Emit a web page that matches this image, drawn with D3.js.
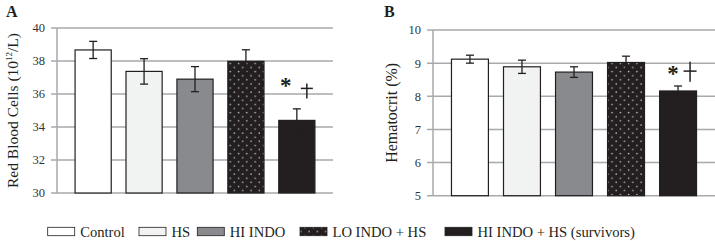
<!DOCTYPE html>
<html><head><meta charset="utf-8">
<script src="https://cdn.jsdelivr.net/npm/d3@7"></script>
<style>
body{margin:0;background:#fff;}
svg{display:block;}
svg text{font-family:"Liberation Serif","Times New Roman",serif;}
</style></head>
<body>
<svg id="c" width="715" height="241"></svg>
<script>
// ---- data ----
const groups = ["Control", "HS", "HI INDO", "LO INDO + HS", "HI INDO + HS (survivors)"];
const rbcMean = [38.67, 37.37, 36.9, 37.98, 34.4];
const rbcErr  = [0.52, 0.77, 0.76, 0.7, 0.7];
const hctMean = [9.12, 8.89, 8.73, 9.02, 8.16];
const hctErr  = [0.12, 0.2, 0.16, 0.19, 0.15];
const rbcTicks = [30, 32, 34, 36, 38, 40];
const hctTicks = [5, 6, 7, 8, 9, 10];
const fills = ["#ffffff", "#f1f2f2", "#898a8d", "url(#dots)", "#231f20"];

const svg = d3.select("#c");
const defs = svg.append("defs");
const pat = defs.append("pattern").attr("id","dots").attr("patternUnits","userSpaceOnUse")
  .attr("width",8.3).attr("height",8.2);
pat.append("rect").attr("width",8.3).attr("height",8.2).attr("fill","#231f20");
pat.append("circle").attr("cx",2).attr("cy",2).attr("r",0.75).attr("fill","#c8c8c8");
pat.append("circle").attr("cx",6.15).attr("cy",6.1).attr("r",0.75).attr("fill","#c8c8c8");

function panel(o){
  const x = d3.scaleBand().domain(groups).range([o.x0, o.x1]).paddingInner(0.29).paddingOuter(0.355);
  const y = d3.scaleLinear().domain(o.domain).range([o.y0, o.y1]);
  const g = svg.append("g");
  // gridlines
  g.selectAll("line.grid").data(o.ticks).join("line")
    .attr("x1", o.x0 - 6).attr("x2", o.gridEnd)
    .attr("y1", d => y(d)).attr("y2", d => y(d))
    .attr("stroke", "#a7a9ac").attr("stroke-width", 1.5);
  g.append("line").attr("x1", o.x0).attr("x2", o.x0).attr("y1", o.y1).attr("y2", o.y0)
    .attr("stroke", "#a7a9ac").attr("stroke-width", 1.5);
  // tick labels
  g.selectAll("text.tk").data(o.ticks).join("text")
    .attr("x", o.x0 - 12).attr("y", d => y(d)).attr("dy", "0.35em")
    .attr("text-anchor", "end").attr("font-size", 12.5).attr("fill", "#333")
    .text(d => d);
  // bars
  g.selectAll("rect.bar").data(groups).join("rect")
    .attr("x", d => x(d)).attr("width", x.bandwidth())
    .attr("y", (d,i) => y(o.mean[i])).attr("height", (d,i) => y(o.domain[0]) - y(o.mean[i]))
    .attr("fill", (d,i) => fills[i]).attr("stroke", "#231f20").attr("stroke-width", 1.2);
  // error bars
  const eb = g.selectAll("g.eb").data(groups).join("g");
  const cx = d => x(d) + x.bandwidth()/2;
  eb.append("line").attr("x1", cx).attr("x2", cx)
    .attr("y1", (d,i) => y(o.mean[i] + o.err[i])).attr("y2", (d,i) => y(o.mean[i] - o.err[i]))
    .attr("stroke", "#231f20").attr("stroke-width", 1.3);
  [1,-1].forEach(s => {
    eb.append("line").attr("x1", d => cx(d) - 4).attr("x2", d => cx(d) + 4)
      .attr("y1", (d,i) => y(o.mean[i] + s*o.err[i])).attr("y2", (d,i) => y(o.mean[i] + s*o.err[i]))
      .attr("stroke", "#231f20").attr("stroke-width", 1.3);
  });
  // significance marks on last group
  const last = groups[groups.length-1];
  const lc = cx(last);
  const ay = y(o.annot);
  g.append("text").attr("x", lc + o.astDx).attr("y", ay + 11).attr("text-anchor","middle")
    .attr("font-size", 23).attr("font-weight","bold").attr("fill","#231f20").text("*");
  g.append("line").attr("x1", lc + o.crossDx).attr("x2", lc + o.crossDx)
    .attr("y1", ay + o.crossTop).attr("y2", ay + o.crossTop + o.crossH)
    .attr("stroke","#231f20").attr("stroke-width",1.5);
  g.append("line").attr("x1", lc + o.crossDx - o.crossW/2).attr("x2", lc + o.crossDx + o.crossW/2)
    .attr("y1", ay + o.crossTop + o.crossH*o.crossF).attr("y2", ay + o.crossTop + o.crossH*o.crossF)
    .attr("stroke","#231f20").attr("stroke-width",1.5);
  // axis title
  const t = g.append("text").attr("transform", `translate(${o.titleX},${(o.y0+o.y1)/2}) rotate(-90)`)
    .attr("text-anchor","middle").attr("font-size", o.titleSize).attr("fill","#231f20");
  o.title(t);
  // panel letter
  g.append("text").attr("x", o.letterX).attr("y", 17).attr("font-size", 16).attr("font-weight","bold")
    .attr("fill","#231f20").text(o.letter);
}

panel({x0:57, x1:333, gridEnd:333, y0:193, y1:28, domain:[30,40], ticks:rbcTicks, mean:rbcMean, err:rbcErr,
  annot:36.7, astDx:-11, crossDx:10, crossTop:1, crossH:15, crossW:12, crossF:0.33,
  titleX:18, titleSize:15.5, letter:"A", letterX:6,
  title: t => { t.append("tspan").text("Red Blood Cells (10");
                t.append("tspan").attr("font-size",9).attr("dy",-6).text("12");
                t.append("tspan").attr("dy",6).text("/L)"); }});
panel({x0:433, x1:715, gridEnd:715, y0:195.7, y1:30, domain:[5,10], ticks:hctTicks, mean:hctMean, err:hctErr,
  annot:8.79, astDx:-5, crossDx:12, crossTop:-8.3, crossH:20, crossW:13, crossF:0.465,
  titleX:397, titleSize:16, letter:"B", letterX:384,
  title: t => t.text("Hematocrit (%)") });

// legend
const legX = [47.7, 139, 197.3, 300, 445];
const leg = svg.append("g");
groups.forEach((gname, i) => {
  leg.append("rect").attr("x", legX[i]).attr("y", 227.3).attr("width", 27).attr("height", 8.4)
    .attr("fill", fills[i]).attr("stroke", "#231f20").attr("stroke-width", 0.8);
  leg.append("text").attr("x", legX[i] + 32.5).attr("y", 236.5).attr("font-size", 14.6)
    .attr("fill", "#231f20").text(gname);
});
</script>
</body></html>
